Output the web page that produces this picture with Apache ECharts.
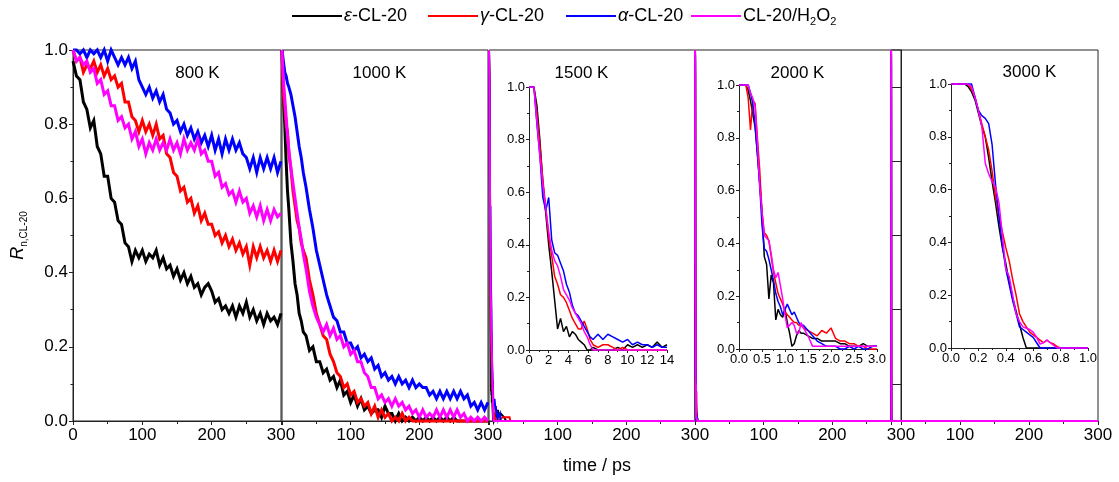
<!DOCTYPE html>
<html><head><meta charset="utf-8">
<script src="https://cdn.jsdelivr.net/npm/echarts@6/dist/echarts.min.js"></script>
<style>html,body{margin:0;padding:0;background:#fff}#c{width:1119px;height:482px}</style>
</head><body><div id="c"></div>
<script>
const seriesNames = ['ε-CL-20','γ-CL-20','α-CL-20','CL-20/H2O2'];
const seriesColors = ['#000000','#ff0000','#0000ff','#ff00ff'];
const panelTitles = ['800 K','1000 K','1500 K','2000 K','3000 K'];

// 800 K
const t800 = [0,5,10,15,20,25,30,35,40,45,50,55,60,65,70,75,80,85,90,95,100,105,110,115,120,125,130,135,140,145,150,155,160,165,170,175,180,185,190,195,200,205,210,215,220,225,230,235,240,245,250,255,260,265,270,275,280,285,290,295,300];
const eps800 = [0.97,0.93,0.92,0.86,0.84,0.79,0.81,0.74,0.72,0.66,0.66,0.60,0.59,0.54,0.53,0.48,0.47,0.43,0.46,0.44,0.46,0.43,0.45,0.44,0.46,0.42,0.44,0.41,0.42,0.39,0.41,0.38,0.40,0.37,0.39,0.36,0.37,0.34,0.36,0.37,0.35,0.32,0.33,0.30,0.31,0.29,0.31,0.28,0.31,0.29,0.32,0.28,0.30,0.27,0.29,0.26,0.29,0.27,0.28,0.26,0.29];
const gam800 = [1.00,0.97,0.98,0.94,0.96,0.95,0.97,0.94,0.96,0.93,0.95,0.92,0.93,0.90,0.91,0.86,0.86,0.82,0.81,0.78,0.81,0.78,0.80,0.77,0.80,0.76,0.77,0.72,0.71,0.67,0.66,0.62,0.63,0.59,0.60,0.56,0.58,0.54,0.56,0.53,0.53,0.50,0.51,0.48,0.50,0.47,0.49,0.46,0.48,0.45,0.47,0.42,0.47,0.44,0.47,0.44,0.46,0.43,0.46,0.43,0.46];
const alp800 = [1.00,1.00,0.99,1.00,0.98,1.00,0.99,1.00,0.98,1.00,0.97,1.00,0.98,0.96,0.98,0.96,0.98,0.95,0.97,0.92,0.90,0.88,0.90,0.87,0.89,0.86,0.88,0.84,0.83,0.80,0.81,0.78,0.80,0.77,0.79,0.76,0.78,0.75,0.77,0.74,0.77,0.73,0.76,0.72,0.76,0.73,0.76,0.73,0.75,0.72,0.71,0.68,0.71,0.67,0.71,0.68,0.71,0.68,0.71,0.67,0.70];
const h2o800 = [1.00,0.97,0.98,0.96,0.97,0.94,0.95,0.91,0.92,0.88,0.89,0.85,0.85,0.81,0.82,0.79,0.80,0.76,0.78,0.74,0.76,0.72,0.75,0.73,0.76,0.73,0.75,0.73,0.76,0.73,0.75,0.72,0.76,0.73,0.75,0.73,0.76,0.72,0.73,0.70,0.70,0.66,0.67,0.63,0.64,0.61,0.62,0.59,0.62,0.59,0.60,0.56,0.58,0.55,0.58,0.54,0.57,0.54,0.57,0.55,0.56];

// 1000 K
const t1000 = [0,2,4,6,8,10,13,16,19,22,25,28,31,35,40,45,50,55,60,65,70,75,80,85,90,95,100,105,110,115,120,125,130,135,140,145,150,155,160,165,170,175,180,185,190,195,200,205,210,215,220,225,230,235,240,245,250,255,260,265,270,275,280,285,290,295,300];
const eps1000 = [1.00,0.88,0.80,0.70,0.62,0.57,0.48,0.43,0.37,0.34,0.29,0.27,0.24,0.23,0.19,0.20,0.16,0.16,0.13,0.14,0.11,0.12,0.09,0.11,0.07,0.08,0.05,0.07,0.04,0.06,0.03,0.04,0.02,0.03,0.03,0.01,0.04,0.02,0.02,0.00,0.02,0.00,0.01,0.00,0.01,0.00,0.01,0.00,0.01,0.00,0.01,0.00,0.01,0.00,0.01,0.00,0.01,0.00,0,0,0,0,0,0,0,0,0];
const gam1000 = [1.00,0.88,0.85,0.80,0.78,0.72,0.68,0.62,0.58,0.54,0.52,0.48,0.46,0.44,0.38,0.34,0.29,0.26,0.23,0.22,0.18,0.16,0.13,0.12,0.09,0.10,0.07,0.08,0.05,0.06,0.04,0.05,0.02,0.04,0.01,0.03,0.01,0.02,0.00,0.01,0.00,0.02,0.00,0.01,0,0,0,0,0,0,0,0,0,0,0,0,0,0,0,0,0,0,0,0,0,0,0];
const alp1000 = [1.00,0.97,0.94,0.93,0.91,0.90,0.88,0.85,0.82,0.78,0.74,0.71,0.67,0.63,0.57,0.52,0.46,0.42,0.38,0.34,0.31,0.28,0.27,0.24,0.24,0.21,0.21,0.19,0.20,0.17,0.18,0.16,0.17,0.14,0.15,0.12,0.13,0.11,0.12,0.10,0.12,0.10,0.11,0.09,0.11,0.09,0.10,0.09,0.09,0.07,0.08,0.06,0.08,0.06,0.08,0.06,0.08,0.06,0.08,0.06,0.07,0.04,0.05,0.03,0.05,0.03,0.05];
const h2o1000 = [1.00,0.92,0.87,0.82,0.77,0.73,0.68,0.64,0.60,0.56,0.52,0.49,0.45,0.41,0.35,0.31,0.28,0.26,0.24,0.26,0.23,0.25,0.22,0.23,0.20,0.21,0.18,0.19,0.16,0.16,0.13,0.12,0.09,0.09,0.06,0.07,0.05,0.06,0.04,0.06,0.04,0.05,0.03,0.04,0.02,0.03,0.01,0.03,0.01,0.02,0.01,0.03,0.01,0.03,0.01,0.03,0.01,0.03,0.01,0.02,0.00,0.01,0.00,0.01,0.00,0.01,0.00];

// 1500 K
const t1500 = [0,0.5,0.8,1.1,1.4,1.7,2.0,2.3,2.6,2.9,3.2,3.5,3.8,4.1,4.4,4.7,5.0,5.3,5.6,5.9,6.2,6.5,7.0,7.5,8.0,8.5,9.0,9.5,10,10.5,11,11.5,12,12.5,13,13.5,14];
const eps1500 = [1.0,1.0,0.93,0.80,0.64,0.52,0.40,0.30,0.19,0.08,0.12,0.07,0.09,0.05,0.07,0.06,0.04,0.03,0.02,0.00,0.00,0.01,0.0,0.0,0.0,0.0,0.01,0.0,0.02,0.01,0.02,0.01,0.02,0.01,0.03,0.01,0.02];
const gam1500 = [1.0,1.0,0.90,0.78,0.65,0.54,0.43,0.36,0.28,0.25,0.21,0.20,0.18,0.15,0.12,0.10,0.08,0.08,0.11,0.08,0.04,0.02,0.01,0.02,0.02,0.01,0.0,0.01,0,0,0,0,0,0,0,0,0];
const alp1500 = [1.0,1.0,0.86,0.74,0.58,0.53,0.58,0.42,0.37,0.36,0.33,0.30,0.25,0.22,0.17,0.14,0.13,0.11,0.09,0.07,0.05,0.04,0.06,0.04,0.06,0.05,0.04,0.03,0.04,0.02,0.03,0.02,0.02,0.01,0.02,0.01,0.01];
const h2o1500 = [1.0,1.0,0.87,0.74,0.63,0.54,0.45,0.38,0.34,0.32,0.28,0.23,0.21,0.19,0.16,0.14,0.12,0.10,0.07,0.05,0.02,0.00,0,0,0,0,0,0,0,0,0,0,0,0,0,0,0];
const epsTail1500 = [[17,0.02],[22,0.01],[25,0]];
const gamTail1500 = [[20,0.01],[30,0.01],[31,0]];
const alpTail1500 = [[16,0.02],[17,0]];
const h2oTail1500 = [[20,0],[300,0]];

// 2000 K
const t2000 = [0,0.15,0.2,0.25,0.3,0.35,0.4,0.45,0.5,0.55,0.6,0.65,0.7,0.75,0.8,0.85,0.9,0.95,1.0,1.05,1.1,1.15,1.2,1.25,1.3,1.35,1.4,1.5,1.6,1.7,1.8,1.9,2.0,2.1,2.2,2.3,2.4,2.5,2.6,2.7,2.8,2.9,3.0];
const eps2000 = [1.0,1.0,0.98,0.94,0.89,0.84,0.74,0.63,0.52,0.35,0.32,0.19,0.28,0.25,0.11,0.15,0.13,0.12,0.15,0.10,0.06,0.01,0.02,0.05,0.07,0.06,0.06,0.05,0.04,0.04,0.03,0.03,0.03,0.03,0.02,0.02,0.01,0.01,0.01,0.02,0.01,0.01,0.01];
const gam2000 = [1.0,1.0,0.95,0.83,0.94,0.93,0.80,0.68,0.52,0.44,0.43,0.41,0.35,0.29,0.25,0.21,0.19,0.17,0.14,0.13,0.12,0.11,0.10,0.10,0.09,0.09,0.08,0.07,0.06,0.05,0.07,0.06,0.08,0.04,0.03,0.03,0.02,0.02,0.01,0.01,0.0,0.0,0.0];
const alp2000 = [1.0,1.0,1.0,0.97,0.93,0.85,0.74,0.62,0.47,0.38,0.37,0.34,0.30,0.26,0.21,0.18,0.16,0.13,0.15,0.17,0.15,0.13,0.14,0.12,0.10,0.09,0.09,0.07,0.05,0.03,0.02,0.01,0.01,0.01,0.0,0.0,0.01,0.0,0.01,0.0,0.0,0.01,0.01];
const h2o2000 = [1.0,1.0,1.0,0.97,0.95,0.92,0.78,0.62,0.52,0.43,0.42,0.41,0.36,0.30,0.27,0.29,0.24,0.19,0.13,0.08,0.09,0.10,0.09,0.06,0.06,0.10,0.08,0.05,0.01,0.01,0.01,0.01,0.01,0.01,0.01,0.01,0.01,0.01,0.01,0.01,0.01,0.01,0.01];
const tail2000 = [[4,0]];
const h2oTail2000 = [[4,0],[300,0]];

// 3000 K
const t3000 = [0,0.05,0.1,0.125,0.15,0.175,0.2,0.225,0.25,0.275,0.3,0.325,0.35,0.375,0.4,0.425,0.45,0.475,0.5,0.525,0.55,0.575,0.6,0.625,0.65,0.675,0.7,0.725,0.75,0.775,0.8,0.9,1.0];
const eps3000 = [1,1,1,0.99,0.97,0.94,0.89,0.84,0.80,0.72,0.63,0.55,0.46,0.38,0.32,0.25,0.19,0.14,0.09,0.04,0.0,0,0,0,0,0,0,0,0,0,0,0,0];
const gam3000 = [1,1,1,1,0.98,0.95,0.90,0.85,0.80,0.75,0.67,0.57,0.50,0.44,0.38,0.33,0.26,0.20,0.13,0.10,0.08,0.06,0.05,0.04,0.03,0.02,0.03,0.02,0.015,0.005,0,0,0];
const alp3000 = [1,1,1,1,1,0.95,0.90,0.88,0.87,0.85,0.77,0.62,0.50,0.39,0.30,0.24,0.18,0.13,0.08,0.07,0.06,0.05,0.04,0.02,0.0,0,0,0,0,0,0,0,0];
const h2o3000 = [1,1,1,1,0.99,0.95,0.90,0.84,0.70,0.66,0.63,0.61,0.55,0.43,0.30,0.27,0.20,0.13,0.10,0.08,0.075,0.07,0.06,0.04,0.015,0.02,0.03,0.02,0.01,0.0,0,0,0];
const h2oTail3000 = [[3,0],[300,0]];

const FONT = 'Liberation Sans, Arial, Helvetica, sans-serif';
const AX = '#222';
function zip(t, v) { return t.map((x, i) => [x, v[i]]); }

const mainData = [
  [zip(t800, eps800), zip(t800, gam800), zip(t800, alp800), zip(t800, h2o800)],
  [zip(t1000, eps1000), zip(t1000, gam1000), zip(t1000, alp1000), zip(t1000, h2o1000)],
  [zip(t1500, eps1500).concat(epsTail1500), zip(t1500, gam1500).concat(gamTail1500), zip(t1500, alp1500).concat(alpTail1500), zip(t1500, h2o1500).concat(h2oTail1500)],
  [zip(t2000, eps2000).concat(tail2000), zip(t2000, gam2000).concat(tail2000), zip(t2000, alp2000).concat(tail2000), zip(t2000, h2o2000).concat(h2oTail2000)],
  [zip(t3000, eps3000), zip(t3000, gam3000), zip(t3000, alp3000), zip(t3000, h2o3000).concat(h2oTail3000)]
];
const insetData = [
  [zip(t1500, eps1500), zip(t1500, gam1500), zip(t1500, alp1500), zip(t1500, h2o1500)],
  [zip(t2000, eps2000), zip(t2000, gam2000), zip(t2000, alp2000), zip(t2000, h2o2000)],
  [zip(t3000, eps3000), zip(t3000, gam3000), zip(t3000, alp3000), zip(t3000, h2o3000)]
];

const grids = [
  {left: 73, top: 50, width: 208, height: 371},
  {left: 282, top: 50, width: 206, height: 371},
  {left: 489, top: 50, width: 206, height: 371},
  {left: 695, top: 50, width: 206, height: 371},
  {left: 891, top: 50, width: 207, height: 371},
  {left: 529, top: 87, width: 138, height: 263},
  {left: 739, top: 85, width: 138, height: 264},
  {left: 951, top: 84, width: 137, height: 264}
].map((g, i) => Object.assign({
  show: i < 5, borderColor: AX, borderWidth: 1, backgroundColor: 'transparent',
  containLabel: false, outerBoundsMode: 'none'
}, g));

const xAxes = [];
const yAxes = [];
for (let gi = 0; gi < 5; gi++) {
  const xa = {
    type: 'value', gridIndex: gi, min: 0, max: 300, interval: 100,
    axisLine: {show: true, onZero: false, lineStyle: {color: AX, width: 1}},
    axisTick: {show: true, length: 4, lineStyle: {color: AX}},
    minorTick: {show: true, splitNumber: 2, length: 3, lineStyle: {color: AX}},
    axisLabel: {show: true, fontSize: 17, color: '#000', fontFamily: FONT, margin: 6, showMinLabel: gi === 0, showMaxLabel: true},
    splitLine: {show: false}, minorSplitLine: {show: false}
  };
  if (gi === 2) {
    xa.name = 'time / ps';
    xa.nameLocation = 'middle';
    xa.nameGap = 36;
    xa.nameTextStyle = {fontSize: 18, color: '#000', fontFamily: FONT, padding: [0, 0, 0, 10]};
  }
  xAxes.push(xa);
  if (gi === 0) {
    yAxes.push({
      type: 'value', gridIndex: 0, min: 0, max: 1, interval: 0.2,
      axisLine: {show: true, lineStyle: {color: AX}},
      axisTick: {show: true, length: 4, lineStyle: {color: AX}},
      minorTick: {show: true, splitNumber: 2, length: 2.5, lineStyle: {color: AX}},
      axisLabel: {fontSize: 17, color: '#000', fontFamily: FONT, margin: 5, formatter: v => v.toFixed(1)},
      splitLine: {show: false}, minorSplitLine: {show: false},
      name: '{r|R}{s|n,CL-20}', nameLocation: 'middle', nameRotate: 90, nameGap: 44,
      nameTextStyle: {rich: {
        r: {fontSize: 18, fontStyle: 'italic', fontFamily: FONT, color: '#000', lineHeight: 22},
        s: {fontSize: 10, fontFamily: FONT, color: '#000', lineHeight: 10, verticalAlign: 'bottom'}
      }}
    });
  } else {
    yAxes.push({
      type: 'value', gridIndex: gi, min: 0, max: 1,
      axisLine: {show: false}, axisTick: {show: false}, axisLabel: {show: false}, splitLine: {show: false}
    });
  }
}
const insetX = [
  {max: 14, interval: 2, fmt: v => String(Math.round(v))},
  {max: 3, interval: 0.5, fmt: v => v.toFixed(1)},
  {max: 1, interval: 0.2, fmt: v => v.toFixed(1)}
];
insetX.forEach((c, k) => {
  const gi = 5 + k;
  xAxes.push({
    type: 'value', gridIndex: gi, min: 0, max: c.max, interval: c.interval,
    axisLine: {show: true, onZero: false, lineStyle: {color: AX}},
    axisTick: {show: true, length: 3, lineStyle: {color: AX}},
    minorTick: {show: true, splitNumber: 2, length: 2, lineStyle: {color: AX}},
    axisLabel: {fontSize: 13, color: '#000', fontFamily: FONT, margin: 4, formatter: c.fmt},
    splitLine: {show: false}
  });
  yAxes.push({
    type: 'value', gridIndex: gi, min: 0, max: 1, interval: 0.2,
    axisLine: {show: true, lineStyle: {color: AX}},
    axisTick: {show: true, length: 3, lineStyle: {color: AX}},
    minorTick: {show: true, splitNumber: 2, length: 2, lineStyle: {color: AX}},
    axisLabel: {fontSize: 13, color: '#000', fontFamily: FONT, margin: 4, formatter: v => v.toFixed(1)},
    splitLine: {show: false}
  });
});
// extra right-hand axis of the 2000 K panel
yAxes.push({
  type: 'value', gridIndex: 3, position: 'right', min: 0, max: 1,
  axisLine: {show: true, lineStyle: {color: AX}},
  axisTick: {show: true, inside: true, length: 9, customValues: [0.1, 0.3, 0.5, 0.7, 0.9], lineStyle: {color: AX}},
  axisLabel: {show: false}, splitLine: {show: false}
});

const series = [];
mainData.forEach((set, gi) => set.forEach((data, si) => {
  series.push({
    type: 'line', name: seriesNames[si], xAxisIndex: gi, yAxisIndex: gi, data: data,
    symbol: 'none', showSymbol: false, clip: false,
    lineStyle: {color: seriesColors[si], width: gi < 2 ? 3 : 2, join: 'miter'}, itemStyle: {color: seriesColors[si]},
    silent: true, animation: false, emphasis: {disabled: true}
  });
}));
insetData.forEach((set, k) => set.forEach((data, si) => {
  series.push({
    type: 'line', name: seriesNames[si], xAxisIndex: 5 + k, yAxisIndex: 5 + k, data: data,
    symbol: 'none', showSymbol: false, clip: false,
    lineStyle: {color: seriesColors[si], width: 1.5}, itemStyle: {color: seriesColors[si]},
    silent: true, animation: false, emphasis: {disabled: true}
  });
}));

const legendText = {
  'ε-CL-20': '{i|ε}-CL-20', 'γ-CL-20': '{i|γ}-CL-20', 'α-CL-20': '{i|α}-CL-20', 'CL-20/H2O2': 'CL-20/H{b|2}O{b|2}'
};
const legendLefts = [292, 428, 566, 691];
const legends = seriesNames.map((n, i) => ({
  data: [{name: n, icon: 'rect', itemStyle: {color: seriesColors[i]}}],
  left: legendLefts[i], top: 5, orient: 'horizontal', padding: 0,
  itemWidth: 50, itemHeight: 2, selectedMode: false,
  formatter: name => legendText[name],
  textStyle: {fontSize: 18, color: '#000', fontFamily: FONT, lineHeight: 22, padding: [0, 0, 0, -3], rich: {
    i: {fontSize: 18, fontStyle: 'italic', fontFamily: FONT, color: '#000', lineHeight: 22},
    b: {fontSize: 11, fontFamily: FONT, color: '#000', lineHeight: 11, verticalAlign: 'bottom'}
  }}
}));

const titleCenters = [[197.5, 73.5], [379.5, 73.5], [581.5, 73.5], [797.5, 73.5], [1029.5, 72.5]];
const graphics = panelTitles.map((txt, i) => ({
  type: 'text', x: titleCenters[i][0], y: titleCenters[i][1], silent: true, z: 100,
  style: {text: txt, fontSize: 17, fontFamily: FONT, fill: '#000',
    align: 'center', verticalAlign: 'middle', textAlign: 'center', textVerticalAlign: 'middle'}
}));

const chart = echarts.init(document.getElementById('c'), null, {renderer: 'canvas'});
chart.setOption({
  animation: false,
  backgroundColor: '#ffffff',
  textStyle: {fontFamily: FONT},
  legend: legends,
  grid: grids,
  xAxis: xAxes,
  yAxis: yAxes,
  graphic: graphics,
  series: series
});
</script></body></html>
